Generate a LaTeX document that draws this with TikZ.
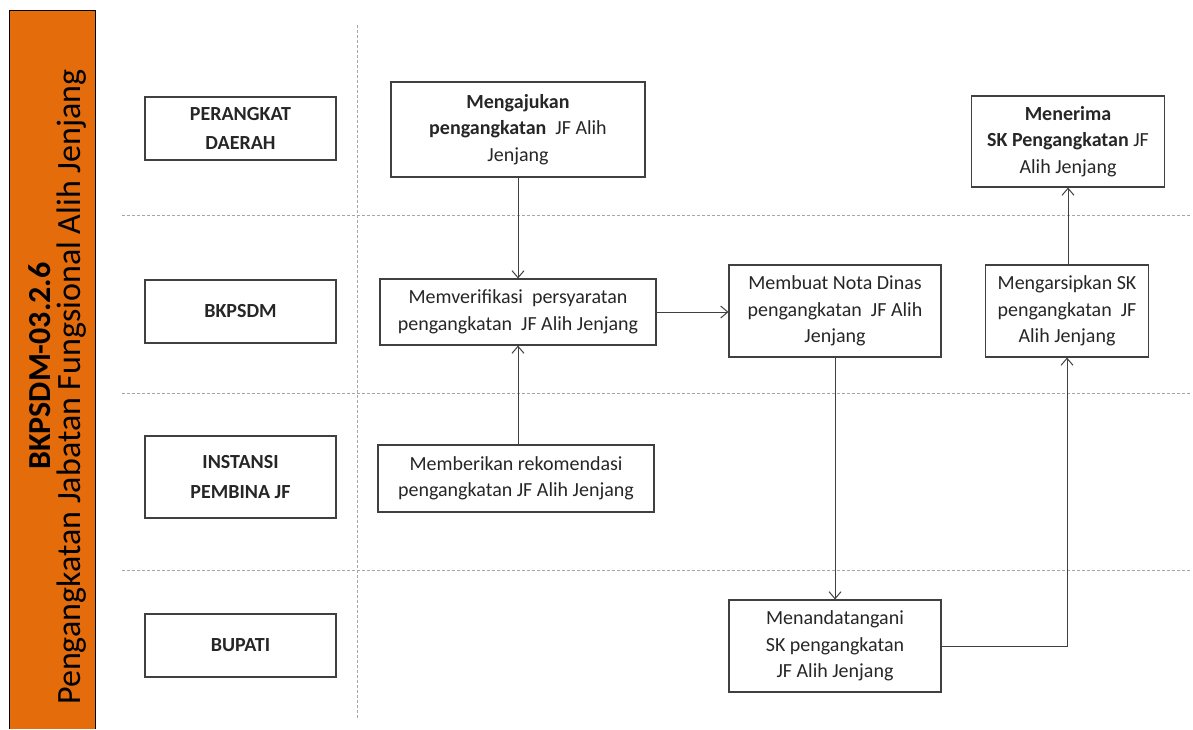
\documentclass[tikz,border=0pt]{standalone}
\usepackage{fontspec}
\setmainfont{Carlito}
\usetikzlibrary{arrows.meta}
\definecolor{barorange}{HTML}{E46C0A}
\definecolor{boxline}{HTML}{404040}
\definecolor{boxtext}{HTML}{262626}
\definecolor{laneline}{HTML}{A6A6A6}

\begin{document}
\begin{tikzpicture}
    	[x=1pt, y=-1pt,
    	 lanebox/.style={rectangle, draw=boxline, line width=1.3pt, minimum width=191pt, align=center, text=boxtext, font=\fontsize{20}{29.5}\selectfont\bfseries},
    	 stepbox/.style={rectangle, draw=boxline, line width=1.1pt, align=center, text=boxtext, inner sep=0pt, font=\fontsize{20}{26.5}\selectfont},
    	 flow/.style={draw=boxline, line width=1pt, -{Straight Barb[length=7pt, width=12pt]}},
    	 lane/.style={draw=laneline, line width=0.8pt, dash pattern=on 3pt off 2pt}]
    	\useasboundingbox (0,0) rectangle (1193,729);

    	% side bar
    	\fill [barorange] (9,10) rectangle (95,729);
    	\draw [black, line width=0.8pt] (9,729) -- (9,10) -- (95,10) -- (95,729);
    	\node (code) at (40,366) [rotate=90, font=\fontsize{32}{34}\selectfont\bfseries] {BKPSDM-03.2.6};
    	\node (title) at (72,387) [rotate=90, font=\fontsize{34}{36}\selectfont] {Pengangkatan Jabatan Fungsional Alih Jenjang};

    	% swimlanes
    	\draw [lane] (357,25) -- (357,720);
    	\draw [lane] (122,215) -- (1190,215);
    	\draw [lane] (122,393) -- (1190,393);
    	\draw [lane] (122,570) -- (1190,570);

    	\node (pd) at (240.5,128.5) [lanebox, minimum height=63pt] {PERANGKAT\\DAERAH};
    	\node (bk) at (240.5,311.5) [lanebox, minimum height=63pt] {BKPSDM};
    	\node (ip) at (240.5,477) [lanebox, minimum height=82pt] {INSTANSI\\PEMBINA JF};
    	\node (bp) at (240.5,645.5) [lanebox, minimum height=63pt] {BUPATI};

    	% activities
    	\node (ajukan) at (518,129.5) [stepbox, minimum width=254pt, minimum height=95pt]
    		{\textbf{Mengajukan}\\\textbf{pengangkatan}\ \ JF Alih\\Jenjang};
    	\node (terima) at (1068,141.5) [stepbox, minimum width=193pt, minimum height=91pt]
    		{\textbf{Menerima}\\\textbf{SK Pengangkatan} JF\\Alih Jenjang};
    	\node (verif) at (518,312) [stepbox, minimum width=276pt, minimum height=66pt]
    		{Memverifikasi\ \ persyaratan\\pengangkatan\ \ JF Alih Jenjang};
    	\node (nota) at (835,311) [stepbox, minimum width=212pt, minimum height=92pt]
    		{Membuat Nota Dinas\\pengangkatan\ \ JF Alih\\Jenjang};
    	\node (arsip) at (1067,311) [stepbox, minimum width=163pt, minimum height=92pt]
    		{Mengarsipkan SK\\pengangkatan\ \ JF\\Alih Jenjang};
    	\node (rekom) at (516,478.5) [stepbox, minimum width=276pt, minimum height=67pt]
    		{Memberikan rekomendasi\\pengangkatan JF Alih Jenjang};
    	\node (ttd) at (835,646) [stepbox, minimum width=212pt, minimum height=92pt]
    		{Menandatangani\\SK pengangkatan\\JF Alih Jenjang};

    	\draw [flow] (ajukan.south) -- (verif.north);
    	\draw [flow] (rekom.north -| verif.south) -- (verif.south);
    	\draw [flow] (verif.east) -- (nota.west |- verif.east);
    	\draw [flow] (nota.south) -- (ttd.north);
    	\draw [flow] (ttd.east) -| (arsip.south);
    	\draw [flow] (arsip.north -| terima.south) -- (terima.south);
\end{tikzpicture}
\end{document}
